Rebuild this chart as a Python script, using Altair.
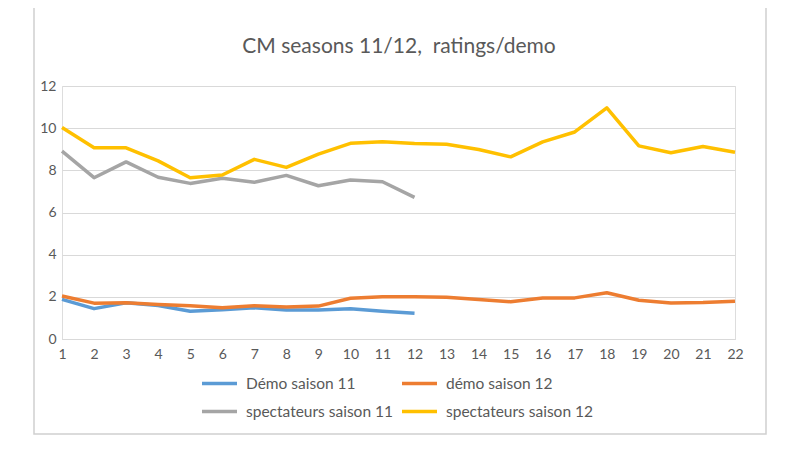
import altair as alt
import pandas as pd

episodes = list(range(1, 23))
demo_s11 = [1.88, 1.44, 1.72, 1.59, 1.32, 1.39, 1.48, 1.37, 1.37, 1.44, 1.32, 1.22]
demo_s12 = [2.04, 1.70, 1.72, 1.64, 1.58, 1.48, 1.58, 1.52, 1.56, 1.93, 2.00, 2.00,
            1.98, 1.87, 1.77, 1.95, 1.95, 2.19, 1.84, 1.71, 1.73, 1.79]
spect_s11 = [8.91, 7.65, 8.40, 7.67, 7.38, 7.62, 7.43, 7.76, 7.27, 7.54, 7.46, 6.72]
spect_s12 = [10.03, 9.07, 9.07, 8.45, 7.65, 7.78, 8.52, 8.14, 8.77, 9.28, 9.35, 9.27,
             9.24, 8.99, 8.64, 9.35, 9.82, 10.96, 9.16, 8.83, 9.13, 8.86]

series_names = ["Démo saison 11", "démo saison 12", "spectateurs saison 11", "spectateurs saison 12"]
series_colors = ["#5b9bd5", "#ed7d31", "#a5a5a5", "#ffc000"]
series_values = [demo_s11, demo_s12, spect_s11, spect_s12]
title_text = "CM seasons 11/12,\u00a0 ratings/demo"

rows = []
for i, (name, vals) in enumerate(zip(series_names, series_values)):
    for ep, v in zip(episodes, vals):
        rows.append({"episode": ep, "value": v, "serie": name, "order": i})
df = pd.DataFrame(rows)

FONT = "Lato"
GREY = "#595959"
GRID = "#d9d9d9"

lines = alt.Chart(df).mark_line(strokeWidth=3.5, strokeJoin="round", strokeCap="butt").encode(
    x=alt.X("episode:Q", scale=alt.Scale(domain=[1, 22], nice=False, zero=False),
            axis=alt.Axis(values=episodes, title=None, grid=False, ticks=False, domain=True,
                          domainColor=GRID, labelColor=GREY, labelFont=FONT, labelFontSize=14,
                          labelPadding=8, labelFlush=False)),
    y=alt.Y("value:Q", scale=alt.Scale(domain=[0, 12], nice=False),
            axis=alt.Axis(values=[0, 2, 4, 6, 8, 10, 12], title=None, grid=True, gridColor=GRID,
                          gridWidth=1, ticks=False, domain=False, labelColor=GREY, labelFont=FONT,
                          labelFontSize=14, labelPadding=6)),
    color=alt.Color("serie:N", scale=alt.Scale(domain=series_names, range=series_colors),
                    legend=alt.Legend(title=None, orient="none", legendX=138, legendY=278,
                                      columns=2, direction="horizontal", symbolType="stroke",
                                      symbolSize=1225, symbolStrokeWidth=3.5, labelFont=FONT,
                                      labelFontSize=15.5, labelColor=GREY, labelOffset=7,
                                      columnPadding=2, rowPadding=-7, labelLimit=300)),
    detail="serie:N",
    order="order:Q",
)

frame = alt.Chart(pd.DataFrame({"a": [0]})).mark_rect(fill=None, stroke="#d0d0d0", strokeWidth=1.5).encode(
    x=alt.value(34 - 62), x2=alt.value(766 - 62), y=alt.value(7 - 86), y2=alt.value(434 - 86)
)

title = alt.Chart(pd.DataFrame({"t": [title_text]})).mark_text(
    font=FONT, fontSize=21, color=GREY, align="center", baseline="middle"
).encode(text="t:N", x=alt.value(337), y=alt.value(47 - 86))

chart = alt.layer(frame, lines, title).properties(
    width=673, height=253,
    autosize=alt.AutoSizeParams(type="none"),
    padding={"left": 54, "top": 78, "right": 50, "bottom": 100},
).configure_view(stroke=None).configure(background="white")

chart.save("out.html", embed_options={"renderer": "svg", "actions": False})
